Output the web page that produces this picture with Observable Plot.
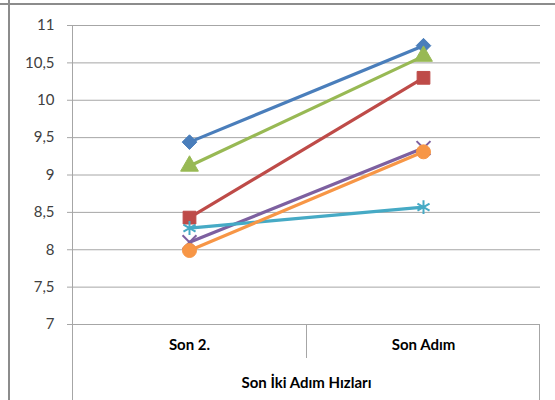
<!DOCTYPE html>
<html>
<head>
<meta charset="utf-8">
<script src="https://cdn.jsdelivr.net/npm/d3@7"></script>
<script src="https://cdn.jsdelivr.net/npm/@observablehq/plot@0.6"></script>
<style>
  html, body { margin: 0; padding: 0; background: white; }
  #chart { width: 555px; height: 400px; }
</style>
</head>
<body>
<div id="chart"></div>
<script>
// ---- data ----
const categories = ["Son 2.", "Son Adım"];
const groupLabel = "Son İki Adım Hızları";
const yTicks = [7, 7.5, 8, 8.5, 9, 9.5, 10, 10.5, 11];
const seriesNames = ["Seri 1", "Seri 2", "Seri 3", "Seri 4", "Seri 5", "Seri 6"];
const seri1 = [9.44, 10.73];
const seri2 = [8.43, 10.30];
const seri3 = [9.12, 10.59];
const seri4 = [8.10, 9.36];
const seri5 = [8.29, 8.57];
const seri6 = [7.99, 9.31];
const seriesValues = [seri1, seri2, seri3, seri4, seri5, seri6];

// ---- styles ----
const colors = ["#4A7EBB", "#BE4B48", "#98B954", "#7D60A0", "#46AAC5", "#F79646"];
const symbols = ["diamond2", "square", "triangle", "times", "asterisk", "circle"];
const radii = [6.6, 7.2, 6.6, 6.4, 6.6, 7];
const filled = [true, true, true, false, false, true];

const rows = [];
seriesNames.forEach((name, i) => {
  categories.forEach((c, j) => rows.push({series: name, idx: i, category: c, value: seriesValues[i][j]}));
});

const marks = [
  Plot.gridY(yTicks, {stroke: "#a6a6a6", strokeOpacity: 1, strokeWidth: 1}),
  Plot.axisY({ticks: yTicks, tickSize: 0, tickPadding: 13, label: null,
    tickFormat: d => String(d).replace(".", ","), fill: "#404040", fontSize: 15}),
  Plot.axisX({tickSize: 0, tickPadding: 15, label: null, fontWeight: "bold", fontSize: 15, fill: "#000"}),
  Plot.text([groupLabel], {frameAnchor: "bottom", text: d => d, dy: 59, dx: 2.5,
    fontWeight: "bold", fontSize: 15, fill: "#000", lineAnchor: "middle"})
];
seriesNames.forEach((name, i) => {
  const data = rows.filter(r => r.idx === i);
  marks.push(Plot.line(data, {x: "category", y: "value", stroke: colors[i], strokeWidth: 3.2}));
  marks.push(Plot.dot(data, {x: "category", y: "value", symbol: () => symbols[i], r: radii[i],
    fill: filled[i] ? colors[i] : "none", stroke: colors[i], strokeWidth: filled[i] ? 1 : 2}));
});

const plot = Plot.plot({
  width: 555,
  height: 400,
  marginLeft: 67,
  marginRight: 15,
  marginTop: 25,
  marginBottom: 76,
  x: {type: "point", domain: categories, range: [72, 540], padding: 0.5},
  y: {domain: [7, 11]},
  symbol: {type: "identity"},
  style: {fontFamily: "Lato, 'Open Sans', sans-serif", fontSize: "15px", background: "white"},
  marks
});

// frame decorations derived from scales
const svg = d3.select(plot);
const xs = plot.scale("x");
const ys = plot.scale("y");
const x0 = xs.range[0], x1 = xs.range[1];
const step = (x1 - x0) / categories.length;
const yBase = ys.apply(yTicks[0]);
const yTop = ys.apply(yTicks[yTicks.length - 1]);
const deco = svg.append("g").attr("stroke", "#a6a6a6").attr("stroke-width", 1).attr("fill", "none");
deco.append("line").attr("x1", x0 + 0.5).attr("x2", x0 + 0.5).attr("y1", yTop).attr("y2", 400);
deco.append("line").attr("x1", x1 - 0.5).attr("x2", x1 - 0.5).attr("y1", yBase).attr("y2", 400);
for (let k = 1; k < categories.length; k++) {
  const xm = Math.round(x0 + step * k) + 0.5;
  deco.append("line").attr("x1", xm).attr("x2", xm).attr("y1", yBase).attr("y2", yBase + 34);
}
// outer chart border (top and left)
const border = svg.append("g").attr("stroke", "#8c8c8c").attr("stroke-width", 2).attr("fill", "none");
border.append("line").attr("x1", 0).attr("x2", 555).attr("y1", 4).attr("y2", 4);
border.append("line").attr("x1", 9).attr("x2", 9).attr("y1", 0).attr("y2", 400);
// bring data marks to front
svg.selectAll("g[aria-label='line'], g[aria-label='dot']").raise();

document.getElementById("chart").appendChild(plot);
</script>
</body>
</html>
